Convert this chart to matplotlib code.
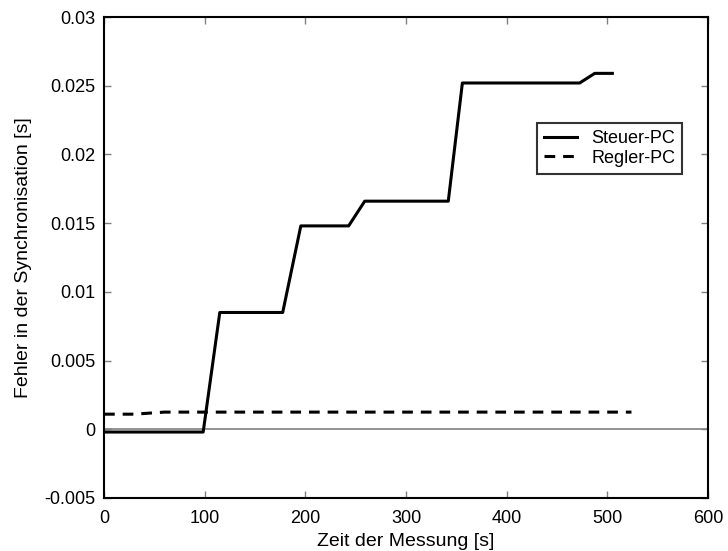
import matplotlib
matplotlib.use("Agg")
import matplotlib.pyplot as plt

plt.rcParams['font.family'] = ['Liberation Sans', 'DejaVu Sans']

steuer_x = [0, 98.5, 115, 177.5, 195.5, 243, 259, 342, 356, 472.5, 487.5, 505]
steuer_y = [-0.0002, -0.0002, 0.0085, 0.0085, 0.0148, 0.0148, 0.0166, 0.0166,
            0.0252, 0.0252, 0.0259, 0.0259]
regler_x = [0, 30, 60, 524]
regler_y = [0.0011, 0.0011, 0.00125, 0.00125]

xticks = [0, 100, 200, 300, 400, 500, 600]
yticks = [-0.005, 0, 0.005, 0.01, 0.015, 0.02, 0.025, 0.03]
ytick_labels = ['-0.005', '0', '0.005', '0.01', '0.015', '0.02', '0.025', '0.03']

fig = plt.figure(figsize=(7.28, 5.51), dpi=100)
ax = fig.add_axes([0.1429, 0.0962, 0.8296, 0.8729])

ax.axhline(0, color='#808080', lw=1.2, zorder=1)
ax.plot(steuer_x, steuer_y, color='black', lw=2.2, label='Steuer-PC', zorder=3)
ax.plot(regler_x, regler_y, color='black', lw=2.2, ls=(0, (3.5, 2.6)), label='Regler-PC', zorder=3)

ax.set_xlim(0, 600)
ax.set_ylim(-0.005, 0.03)
ax.set_xticks(xticks)
ax.set_xticklabels([str(t) for t in xticks])
ax.set_yticks(yticks)
ax.set_yticklabels(ytick_labels)
ax.tick_params(direction='in', length=5, width=1, color='#808080', labelsize=13,
               top=True, right=True)
ax.tick_params(axis='x', pad=9)
ax.tick_params(axis='y', pad=6)
for s in ax.spines.values():
    s.set_linewidth(1.5)
    s.set_color('black')

ax.set_xlabel('Zeit der Messung [s]', fontsize=14, labelpad=4)
ax.set_ylabel('Fehler in der Synchronisation [s]', fontsize=14, labelpad=9)

leg = ax.legend(loc='upper left', bbox_to_anchor=(0.717, 0.78), fontsize=13,
                frameon=True, fancybox=False, edgecolor='black', handlelength=1.8,
                borderpad=0.4, labelspacing=0.15, handletextpad=0.8, borderaxespad=0)
leg.get_frame().set_linewidth(1.5)

fig.savefig('out.png', dpi=100)
